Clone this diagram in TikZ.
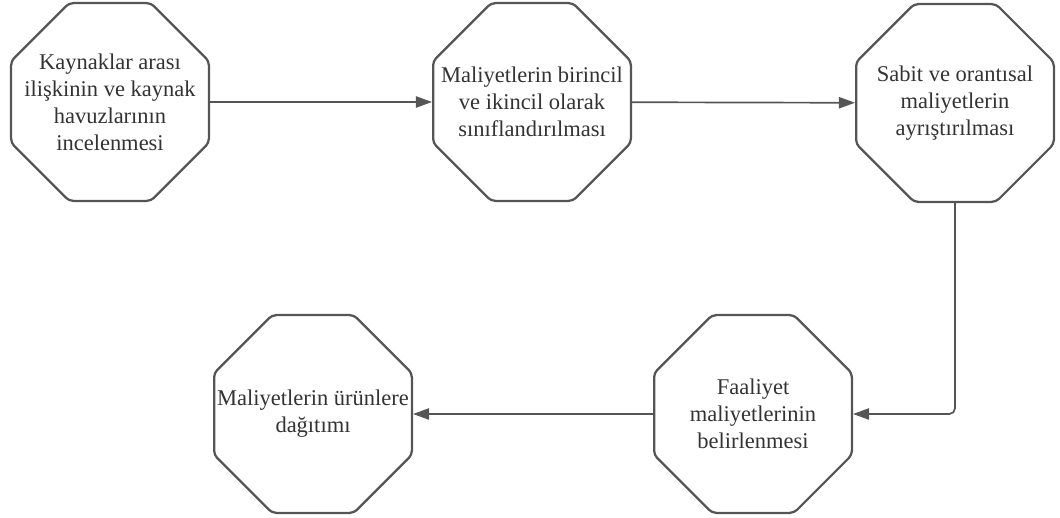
\documentclass[tikz,border=0pt]{standalone}
\usepackage{fontspec}
\setmainfont{Liberation Serif}
\usepackage{tikz}
\usetikzlibrary{arrows.meta, positioning, shapes.geometric}
\definecolor{edge}{RGB}{85,85,85}
\definecolor{ink}{RGB}{51,51,51}

\begin{document}
\begin{tikzpicture}[x=0.025cm, y=-0.025cm,
    stepoct/.style={regular polygon, regular polygon sides=8, draw=edge,
      line width=1.6pt, rounded corners=3pt, minimum size=5.35cm, inner sep=0pt},
    txt/.style={align=center, text=ink, inner sep=0pt, font=\fontsize{16}{19.2}\selectfont},
    flow/.style={draw=edge, line width=1.2pt, -{Triangle[length=4mm, width=2.8mm]}}]
  \useasboundingbox (0,0) rectangle (1060,518);
  % top row
  \node[stepoct, label={[txt]center:Kaynaklar arası\\ilişkinin ve kaynak\\havuzlarının\\incelenmesi}] (kaynak) at (110,102) {};
  \node[stepoct, label={[txt]center:Maliyetlerin birincil\\ve ikincil olarak\\sınıflandırılması}] (sinif) at (532,102) {};
  \node[stepoct, label={[txt]center:Sabit ve orantısal\\maliyetlerin\\ayrıştırılması}] (sabit) at (955,103) {};
  % bottom row
  \node[stepoct, label={[txt]center:Faaliyet\\maliyetlerinin\\belirlenmesi}] (faaliyet) at (753,414) {};
  \node[stepoct, label={[txt]center:Maliyetlerin ürünlere\\dağıtımı}] (dagitim) at (313,414) {};
  % connectors
  \draw[flow] (kaynak) -- (sinif);
  \draw[flow] (sinif) -- (sabit);
  \draw[flow, rounded corners=4pt] (sabit.south) |- (faaliyet.east);
  \draw[flow] (faaliyet) -- (dagitim);
\end{tikzpicture}
\end{document}
